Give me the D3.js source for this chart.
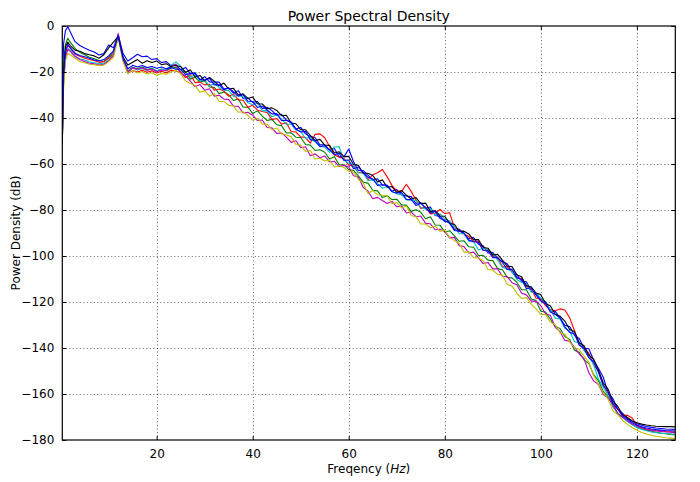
<!DOCTYPE html>
<html><head><meta charset="utf-8">
<script src="https://cdn.jsdelivr.net/npm/d3@7"></script>
<style>
html,body{margin:0;padding:0;background:#fff;}
svg{display:block;font-family:"DejaVu Sans",sans-serif;}
</style></head>
<body><div id="chart"></div>
<script>
const title = "Power Spectral Density";
const xLabel = "Freqency (";
const xLabelMath = "Hz";
const yLabel = "Power Density (dB)";
const xTicks = [20, 40, 60, 80, 100, 120];
const yTicks = [0, -20, -40, -60, -80, -100, -120, -140, -160, -180];
const xDomain = [0.35, 128];
const yDomain = [-180, 0];

const freqs = [0.35, 0.6, 1, 1.5, 2, 3, 4, 5, 6, 7, 8, 9, 10, 11, 12, 13, 14, 15, 16, 17, 18, 19, 20,
 21, 22, 23, 24, 25, 26, 27, 28, 29, 30, 31, 32, 33, 34, 35, 36, 37, 38, 39, 40,
 41, 42, 43, 44, 45, 46, 47, 48, 49, 50, 51, 52, 53, 54, 55, 56, 57, 58, 59, 60,
 61, 62, 63, 64, 65, 66, 67, 68, 69, 70, 71, 72, 73, 74, 75, 76, 77, 78, 79, 80,
 81, 82, 83, 84, 85, 86, 87, 88, 89, 90, 91, 92, 93, 94, 95, 96, 97, 98, 99, 100,
 101, 102, 103, 104, 105, 106, 107, 108, 109, 110, 111, 112, 113, 114, 115, 116, 117, 118, 119, 120,
 121, 122, 123, 124, 125, 126, 127, 128];

const seriesColors = ["#0000ff", "#008000", "#ff0000", "#00bfbf", "#bf00bf", "#bfbf00", "#000000", "#0000ff"];

const ch1 = [-48, -8, -2, -0.3, -2.5, -6.8, -8.5, -9.6, -10.5, -11.3, -12.6, -12, -8.3, -9.5, -3.8, -12, -15.2, -13.8, -12.3, -13.4, -13.1, -14.6, -14.2, -15.9, -15.5, -17.2, -16.8,
 -19.1, -18.0, -20.6, -20.4, -23.5, -22.0, -24.3, -24.4, -24.4, -27.4, -26.9, -29.2, -28.1, -31.5, -31.3, -33.2,
 -32.8, -36.0, -35.3, -36.8, -38.9, -38.4, -40.9, -41.7, -44.8, -44.1, -46.9, -48.0, -48.6, -51.7, -51.7, -54.0, -53.3, -56.9, -56.9, -53.5,
 -59.0, -62.8, -62.9, -64.8, -67.1, -66.4, -69.1, -69.3, -71.8, -71.1, -73.4, -73.9, -74.2, -77.2, -76.8, -79.2, -78.7, -82.4, -82.8, -85.0,
 -85.2, -88.5, -88.3, -90.2, -92.5, -92.0, -94.9, -95.6, -98.7, -98.4, -101.3, -102.4, -103.4, -107.1, -108.1, -111.0, -111.2, -115.3, -116.5, -119.0,
 -119.8, -123.9, -124.1, -127.0, -130.1, -130.7, -134.5, -135.9, -140.1, -140.3, -145.3, -148.8, -152.7, -159.3, -162.0, -166.6, -168.3, -170.4, -171.8, -172.9,
 -173.6, -174.1, -174.5, -174.8, -175, -175.2, -175.3, -175.4];

const ch2 = [-50, -18, -8, -5.3, -7, -9.7, -11.5, -12.5, -13.6, -14.2, -15, -15.4, -13.6, -11.3, -4.3, -14.5, -19.5, -17.9, -18.6, -17.8, -18.9, -18.4, -19.6, -18.7, -19.5, -18.4, -18.0,
 -20.0, -19.9, -23.1, -22.3, -24.4, -23.9, -26.5, -26.7, -29.4, -28.7, -29.9, -32.4, -31.7, -35.3, -35.3, -38.0,
 -36.9, -39.2, -41.1, -40.6, -42.9, -43.3, -46.5, -46.4, -48.4, -48.5, -51.5, -51.8, -54.1, -53.8, -54.9, -57.8, -56.8, -60.3, -60.3, -62.4,
 -62.8, -65.2, -67.9, -68.3, -71.4, -71.7, -74.6, -73.8, -75.5, -75.3, -77.8, -77.9, -80.6, -79.9, -81.0, -83.8, -82.9, -86.5, -86.6, -89.6,
 -89.0, -91.3, -93.6, -93.4, -96.0, -96.2, -99.8, -99.7, -101.8, -102.0, -105.5, -106.0, -109.3, -109.5, -111.4, -114.7, -114.7, -118.7, -119.4, -124.0,
 -124.4, -127.5, -130.7, -131.5, -135.0, -136.3, -141.0, -141.9, -145.2, -146.8, -151.6, -154.2, -158.9, -161.1, -164.2, -168.5, -170.1, -171.8, -173.1, -174.3,
 -175.1, -175.7, -176.2, -176.6, -177, -177.3, -177.6, -177.8];

const ch3 = [-52, -24, -12, -8.3, -9.5, -12.3, -13.2, -14, -14.6, -15, -15.8, -15.5, -14, -12.2, -4.6, -15, -20.6, -19.4, -20.0, -19.2, -20.1, -19.5, -20.4, -19.7, -20.3, -19.2, -19.6,
 -20.2, -22.4, -21.1, -24.6, -24.4, -25.6, -25.3, -27.9, -27.4, -28.3, -30.5, -29.6, -32.1, -32.3, -35.4, -34.4,
 -36.6, -37.2, -37.6, -40.7, -40.2, -42.7, -42.1, -45.9, -46.1, -48.2, -48.5, -50.9, -47.1, -46.9, -48.6, -52.4, -56.1, -57.0, -57.6, -60.5,
 -61.0, -63.8, -63.5, -66.9, -64.7, -63.8, -62.4, -65.6, -69.3, -71.8, -71.9, -68.8, -71.9, -75.7, -79.3, -78.7, -81.7, -81.4, -79.8, -81.6,
 -81.1, -87.7, -88.8, -90.5, -91.5, -93.8, -93.5, -97.6, -97.3, -100.0, -100.6, -104.6, -104.7, -106.8, -109.7, -109.7, -113.3, -114.1, -118.4, -118.5,
 -121.7, -123.3, -123.8, -123.0, -123.5, -126.8, -132.4, -138.6, -139.9, -142.3, -147.3, -150.1, -156.1, -159.6, -165.0, -166.5, -169.6, -169.2, -170.4, -173.6,
 -174.6, -175.2, -175.6, -175.9, -176.1, -176.3, -176.4, -176.5];

const ch4 = [-51, -25, -13, -9.8, -10.5, -13, -14.2, -14.8, -15.6, -16, -16.4, -16.2, -14.8, -12.5, -4.4, -14.8, -19.8, -18.3, -19.1, -18.5, -19.3, -18.6, -19.5, -18.8, -18.9, -17.0, -15.6,
 -17.5, -20.1, -22.2, -21.3, -23.7, -23.4, -26.2, -24.8, -26.7, -27.9, -28.1, -30.6, -30.2, -30.8, -33.4, -34.2,
 -33.5, -36.9, -36.8, -39.5, -38.6, -40.5, -42.8, -42.6, -45.3, -45.8, -48.9, -48.4, -50.5, -52.3, -52.7, -55.0, -52.6, -52.5, -58.4, -59.6,
 -60.4, -63.8, -64.0, -67.2, -66.9, -68.6, -70.5, -69.8, -71.9, -73.0, -73.3, -75.6, -75.5, -75.9, -78.8, -79.7, -79.4, -82.2, -81.7, -84.0,
 -84.7, -87.3, -90.3, -90.3, -93.6, -93.8, -97.3, -96.7, -97.2, -99.0, -101.7, -105.0, -105.6, -106.8, -110.2, -111.5, -112.0, -115.7, -116.1, -118.3,
 -120.1, -123.4, -127.0, -127.4, -131.4, -132.6, -137.2, -137.9, -141.1, -143.6, -147.3, -153.6, -157.0, -160.6, -165.7, -168.2, -170.2, -171.9, -173.4, -174.6,
 -175.4, -176, -176.5, -176.8, -177.1, -177.2, -177.3, -177.4];

const ch5 = [-51, -26, -13.5, -10.2, -11, -13.3, -14.6, -15.4, -16.2, -16.4, -17, -16.6, -15.2, -12.8, -3.2, -14.2, -20.1, -18.2, -18.8, -18.3, -19.2, -18.8, -19.9, -19.1, -19.4, -17.6, -16.6,
 -20.5, -21.6, -24.0, -26.4, -25.4, -27.9, -27.3, -30.5, -30.1, -31.8, -31.9, -34.9, -34.9, -37.8, -37.5, -38.8,
 -41.1, -40.9, -44.1, -44.3, -46.7, -46.5, -48.3, -50.6, -49.9, -52.9, -52.5, -56.4, -55.6, -57.3, -56.5, -59.1, -58.8, -61.1, -60.6, -61.3,
 -65.1, -65.6, -70.1, -71.8, -75.1, -74.5, -75.9, -77.2, -76.3, -78.6, -78.2, -81.3, -80.9, -82.9, -82.6, -85.8, -86.0, -88.6, -88.4, -89.3,
 -92.1, -91.9, -95.5, -95.9, -98.7, -98.3, -100.8, -103.3, -102.8, -105.6, -105.6, -108.8, -109.0, -111.6, -112.5, -116.2, -116.9, -119.6, -119.6, -121.6,
 -125.2, -125.8, -131.0, -132.9, -136.7, -137.1, -139.6, -142.6, -144.6, -150.8, -154.3, -155.9, -160.2, -161.8, -164.5, -168.6, -170, -171.6, -172.9, -174,
 -174.8, -175.4, -175.8, -176.1, -176.3, -176.5, -176.6, -176.8];

const ch6 = [-52, -28, -15, -12, -12.5, -14, -15.4, -16, -16.6, -16.8, -17.2, -17, -15.5, -13.6, -5.2, -15.4, -20.7, -19.3, -20.4, -19.8, -20.9, -20.3, -21.5, -20.6, -21.0, -19.9, -19.2,
 -20.7, -23.9, -25.0, -25.8, -28.8, -28.2, -30.5, -29.4, -32.8, -32.8, -34.5, -34.8, -37.5, -37.3, -38.9, -41.0,
 -40.1, -42.7, -42.7, -45.1, -44.3, -46.9, -47.4, -48.1, -51.5, -51.8, -54.5, -54.1, -57.8, -57.5, -58.7, -58.3, -61.3, -60.8, -61.5, -63.2,
 -63.5, -66.7, -68.3, -72.8, -71.5, -73.4, -73.6, -73.9, -77.3, -76.8, -79.1, -78.3, -82.4, -82.9, -86.1, -86.1, -87.7, -87.0, -89.3, -88.7,
 -91.9, -93.3, -94.6, -98.3, -98.2, -100.7, -100.9, -102.1, -105.9, -106.1, -108.0, -108.3, -112.3, -113.1, -116.1, -118.5, -118.1, -120.9, -123.0, -125.4,
 -125.5, -128.8, -129.9, -133.5, -134.0, -137.3, -139.9, -140.7, -143.5, -146.2, -152.0, -155.9, -159.4, -162.2, -167.3, -168.9, -171.4, -173.2, -174.6, -175.8,
 -176.7, -177.4, -177.9, -178.4, -178.7, -179, -179.2, -179.4];

const ch7 = [-50, -20, -9, -7, -8.5, -10.5, -11, -12, -12.5, -13, -14, -12.5, -9.5, -7, -4.5, -13.5, -17.0, -15.8, -14.6, -16.2, -15.1, -15.9, -15.2, -16.8, -16.4, -17.6, -17.2,
 -17.7, -20.2, -19.0, -22.2, -21.5, -23.7, -22.4, -24.0, -26.0, -24.8, -27.4, -27.1, -30.0, -29.5, -31.5, -30.9,
 -33.8, -33.9, -36.0, -35.6, -36.7, -39.0, -38.8, -42.2, -42.5, -45.1, -45.1, -47.6, -49.8, -49.3, -51.8, -51.9, -55.2, -54.7, -56.8, -56.7,
 -60.2, -60.6, -64.0, -64.0, -65.0, -67.8, -66.9, -70.1, -69.8, -72.4, -71.5, -73.6, -75.2, -74.6, -77.2, -77.0, -80.7, -80.3, -82.6, -82.7,
 -85.9, -86.2, -89.3, -89.2, -90.4, -93.0, -92.8, -96.3, -96.6, -99.6, -99.3, -101.8, -104.4, -104.6, -108.2, -109.0, -113.0, -113.4, -116.1, -116.8,
 -120.7, -121.7, -125.3, -126.2, -128.3, -132.0, -132.8, -137.7, -139.0, -143.1, -144.9, -149.6, -155.1, -157.9, -163.2, -165.3, -168.9, -170.2, -171.6, -172.5,
 -173.1, -173.5, -173.8, -174, -174.1, -174.2, -174.2, -174.3];

const ch8 = [-51, -22, -11, -8, -9.5, -11.8, -12.8, -13.4, -14, -14.8, -15.2, -14.6, -13, -10.8, -4.2, -14.2, -18.6, -17.1, -17.8, -17.2, -18.1, -17.6, -18.4, -17.8, -18.6, -18.0, -18.8,
 -18.8, -21.1, -20.7, -20.7, -23.2, -23.6, -22.8, -25.6, -25.5, -27.7, -27.0, -28.6, -30.5, -29.9, -32.7, -32.8,
 -35.4, -34.8, -36.5, -38.2, -38.1, -41.1, -41.0, -42.1, -44.8, -46.1, -45.8, -49.4, -49.8, -52.5, -52.1, -53.8, -56.0, -55.3, -58.4, -58.3,
 -62.1, -61.3, -63.6, -65.8, -66.4, -69.3, -69.0, -69.3, -72.1, -72.6, -72.4, -75.4, -75.5, -78.0, -77.1, -79.0, -81.3, -80.6, -83.7, -84.5,
 -85.8, -88.9, -89.2, -90.0, -93.1, -93.8, -94.0, -97.6, -97.7, -100.7, -100.6, -102.8, -105.8, -105.8, -109.4, -110.2, -114.2, -113.8, -117.0, -119.6,
 -120.8, -124.4, -125.4, -127.0, -130.8, -133.2, -133.9, -138.7, -140.2, -144.3, -146.1, -150.6, -156.3, -158.8, -164.1, -166.4, -169.4, -171, -172.4, -173.5,
 -174.3, -174.8, -175.2, -175.5, -175.7, -175.9, -176, -176.1];

const seriesValues = [ch1, ch2, ch3, ch4, ch5, ch6, ch7, ch8];
seriesValues.forEach((s, i) => { if (s.length !== freqs.length) console.error("length mismatch", i, s.length, freqs.length); });

const W = 700, H = 482;
const margin = {left: 62.3, right: 700 - 675.3, top: 26, bottom: 482 - 440};

const svg = d3.select("#chart").append("svg").attr("width", W).attr("height", H);
const x = d3.scaleLinear().domain(xDomain).range([margin.left, W - margin.right]);
const y = d3.scaleLinear().domain(yDomain).range([H - margin.bottom, margin.top]);
const x0 = margin.left, x1 = W - margin.right, y0 = H - margin.bottom, y1 = margin.top;

const grid = svg.append("g");
grid.selectAll("line.gx").data(xTicks).join("line")
  .attr("x1", d => Math.round(x(d)) + 0.5).attr("x2", d => Math.round(x(d)) + 0.5)
  .attr("y1", y1).attr("y2", y0)
  .attr("stroke", "#000").attr("stroke-opacity", 0.6).attr("stroke-width", 1).attr("stroke-dasharray", "1,2.5");
grid.selectAll("line.gy").data(yTicks.filter(d => d > -180 && d < 0)).join("line")
  .attr("y1", d => Math.round(y(d)) + 0.5).attr("y2", d => Math.round(y(d)) + 0.5)
  .attr("x1", x0).attr("x2", x1)
  .attr("stroke", "#000").attr("stroke-opacity", 0.6).attr("stroke-width", 1).attr("stroke-dasharray", "1,2.5");

svg.append("clipPath").attr("id", "clip").append("rect")
  .attr("x", x0).attr("y", y1).attr("width", x1 - x0).attr("height", y0 - y1);

const n = Math.min(...seriesValues.map(s => s.length), freqs.length);
const line = d3.line().x((d, i) => x(freqs[i])).y(d => y(d));
svg.append("g").attr("clip-path", "url(#clip)")
  .selectAll("path").data(seriesValues).join("path")
  .attr("d", d => line(d.slice(0, n)))
  .attr("fill", "none")
  .attr("stroke", (d, i) => seriesColors[i])
  .attr("stroke-width", 1.1)
  .attr("stroke-linejoin", "round");

svg.append("rect").attr("x", x0).attr("y", y1).attr("width", x1 - x0).attr("height", y0 - y1)
  .attr("fill", "none").attr("stroke", "#000").attr("stroke-width", 1.2);

const fmt = d => d < 0 ? "\u2212" + Math.abs(d) : String(d);
const axB = svg.append("g").attr("transform", `translate(0,${y0})`)
  .call(d3.axisBottom(x).tickValues(xTicks).tickSize(-4).tickPadding(9).tickFormat(fmt));
const axT = svg.append("g").attr("transform", `translate(0,${y1})`)
  .call(d3.axisTop(x).tickValues(xTicks).tickSize(-4).tickFormat(""));
const axL = svg.append("g").attr("transform", `translate(${x0},0)`)
  .call(d3.axisLeft(y).tickValues(yTicks).tickSize(-4).tickPadding(8).tickFormat(fmt));
const axR = svg.append("g").attr("transform", `translate(${x1},0)`)
  .call(d3.axisRight(y).tickValues(yTicks).tickSize(-4).tickFormat(""));
[axB, axT, axL, axR].forEach(a => {
  a.select(".domain").remove();
  a.selectAll("text").attr("font-family", "DejaVu Sans").attr("font-size", 12).attr("fill", "#000");
  a.selectAll("line").attr("stroke", "#000");
});

svg.append("text").attr("x", (x0 + x1) / 2).attr("y", 21).attr("text-anchor", "middle")
  .attr("font-size", 14).attr("font-family", "DejaVu Sans").text(title);
const xl = svg.append("text").attr("x", (x0 + x1) / 2).attr("y", 473).attr("text-anchor", "middle")
  .attr("font-size", 12).attr("font-family", "DejaVu Sans");
xl.append("tspan").text(xLabel);
xl.append("tspan").attr("font-style", "italic").text(xLabelMath);
xl.append("tspan").text(")");
svg.append("text").attr("transform", `translate(20,${(y0 + y1) / 2}) rotate(-90)`)
  .attr("text-anchor", "middle").attr("font-size", 12).attr("font-family", "DejaVu Sans").text(yLabel);
</script></body></html>
